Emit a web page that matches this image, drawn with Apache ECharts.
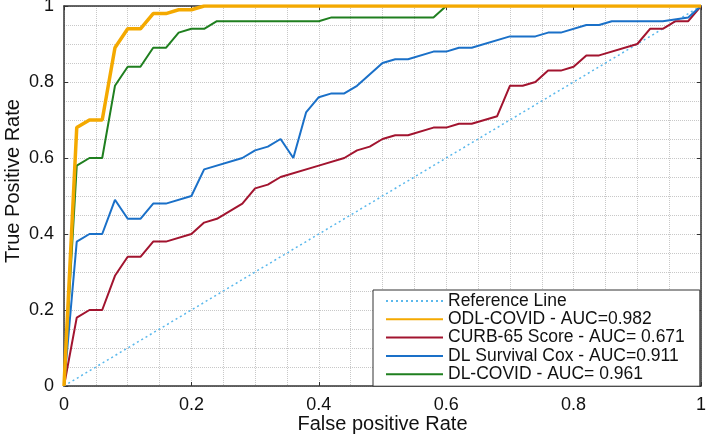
<!DOCTYPE html>
<html>
<head>
<meta charset="utf-8">
<script src="https://cdn.jsdelivr.net/npm/echarts@6/dist/echarts.min.js"></script>
<style>html,body{margin:0;padding:0;background:#fff}#c{width:709px;height:436px}</style>
</head>
<body>
<div id="c"></div>
<script>
// ROC curves: [false positive rate, true positive rate]
const referenceLine = [[0, 0], [1, 1]];
const odlCovid = [[0,0],[0.02,0.68],[0.04,0.70],[0.06,0.70],[0.08,0.89],[0.10,0.94],[0.12,0.94],[0.14,0.98],[0.16,0.98],[0.18,0.99],[0.20,0.99],[0.22,1],[1,1]];
const curb65 = [[0,0],[0.02,0.18],[0.04,0.20],[0.06,0.20],[0.08,0.29],[0.10,0.34],[0.12,0.34],[0.14,0.38],[0.16,0.38],[0.20,0.40],[0.22,0.43],[0.24,0.44],[0.28,0.48],[0.30,0.52],[0.32,0.53],[0.34,0.55],[0.40,0.58],[0.44,0.60],[0.46,0.62],[0.48,0.63],[0.50,0.65],[0.52,0.66],[0.54,0.66],[0.58,0.68],[0.60,0.68],[0.62,0.69],[0.64,0.69],[0.68,0.71],[0.70,0.79],[0.72,0.79],[0.74,0.80],[0.76,0.83],[0.78,0.83],[0.80,0.84],[0.82,0.87],[0.84,0.87],[0.90,0.90],[0.92,0.94],[0.94,0.94],[0.96,0.96],[0.98,0.96],[1,1]];
const dlSurvivalCox = [[0,0],[0.02,0.38],[0.04,0.40],[0.06,0.40],[0.08,0.49],[0.10,0.44],[0.12,0.44],[0.14,0.48],[0.16,0.48],[0.20,0.50],[0.22,0.57],[0.28,0.60],[0.30,0.62],[0.32,0.63],[0.34,0.65],[0.36,0.60],[0.38,0.72],[0.40,0.76],[0.42,0.77],[0.44,0.77],[0.46,0.79],[0.50,0.85],[0.52,0.86],[0.54,0.86],[0.58,0.88],[0.60,0.88],[0.62,0.89],[0.64,0.89],[0.70,0.92],[0.74,0.92],[0.76,0.93],[0.78,0.93],[0.82,0.95],[0.84,0.95],[0.86,0.96],[0.94,0.96],[0.98,0.97],[1,1]];
const dlCovid = [[0,0],[0.02,0.58],[0.04,0.60],[0.06,0.60],[0.08,0.79],[0.10,0.84],[0.12,0.84],[0.14,0.89],[0.16,0.89],[0.18,0.93],[0.20,0.94],[0.22,0.94],[0.24,0.96],[0.40,0.96],[0.42,0.97],[0.58,0.97],[0.60,1],[1,1]];
const seriesNames = ['Reference Line', 'ODL-COVID - AUC=0.982', 'CURB-65 Score - AUC= 0.671', 'DL Survival Cox - AUC=0.911', 'DL-COVID - AUC= 0.961'];
const xTickLabels = ['0', '0.2', '0.4', '0.6', '0.8', '1'];
const yTickLabels = ['0', '0.2', '0.4', '0.6', '0.8', '1'];

const FONT = 'Arial, "Liberation Sans", sans-serif';
const fmt = (labels) => (v) => labels[Math.round(v / 0.2)] ?? '';
const gridLine = { show: true, lineStyle: { type: 'dotted', color: '#c8c8c8', width: 1 } };
const axisLine = { show: true, onZero: false, lineStyle: { color: '#333', width: 1.5 } };
const tick = { show: true, inside: true, length: 4, lineStyle: { color: '#333', width: 1 } };

const chart = echarts.init(document.getElementById('c'));
chart.setOption({
  animation: false,
  backgroundColor: '#fff',
  grid: { left: 64, right: 8, top: 6, bottom: 50, containLabel: false, outerBoundsMode: 'none' },
  xAxis: [{
    type: 'value', min: 0, max: 1, interval: 0.2, position: 'bottom',
    name: 'False positive Rate', nameLocation: 'middle', nameGap: 28, nameMoveOverlap: false,
    nameTextStyle: { fontFamily: FONT, fontSize: 20, color: '#111' },
    axisLine, axisTick: tick,
    axisLabel: { formatter: fmt(xTickLabels), margin: 10, fontFamily: FONT, fontSize: 18, color: '#111' },
    splitLine: gridLine,
    minorTick: { show: false, splitNumber: 4 },
    minorSplitLine: gridLine
  }, {
    type: 'value', min: 0, max: 1, interval: 0.2, position: 'top',
    axisLine, axisTick: tick, axisLabel: { show: false }, splitLine: { show: false }
  }],
  yAxis: [{
    type: 'value', min: 0, max: 1, interval: 0.2, position: 'left',
    name: 'True Positive Rate', nameLocation: 'middle', nameGap: 41, nameMoveOverlap: false,
    nameTextStyle: { fontFamily: FONT, fontSize: 20, color: '#111', padding: [0, 0, 0, 30] },
    axisLine, axisTick: tick,
    axisLabel: { formatter: fmt(yTickLabels), margin: 10, fontFamily: FONT, fontSize: 18, color: '#111' },
    splitLine: gridLine,
    minorTick: { show: false, splitNumber: 4 },
    minorSplitLine: gridLine
  }, {
    type: 'value', min: 0, max: 1, interval: 0.2, position: 'right',
    axisLine, axisTick: tick, axisLabel: { show: false }, splitLine: { show: false }
  }],
  legend: {
    orient: 'vertical', left: 373, top: 290,
    padding: [2, 15, 3, 12], itemGap: 0.3, itemWidth: 57, itemHeight: 14,
    backgroundColor: '#fff', borderColor: '#333', borderWidth: 1,
    itemStyle: { opacity: 0 },
    textStyle: { fontFamily: FONT, fontSize: 17.5, color: '#111', lineHeight: 17 },
    data: seriesNames
  },
  series: [
    { name: seriesNames[0], type: 'line', data: referenceLine, symbol: 'none', z: 2,
      lineStyle: { color: '#5ab8ec', width: 1.5, type: [2, 3] }, itemStyle: { color: '#5ab8ec' } },
    { name: seriesNames[2], type: 'line', data: curb65, symbol: 'none', z: 3,
      lineStyle: { color: '#a2142f', width: 2 }, itemStyle: { color: '#a2142f' } },
    { name: seriesNames[3], type: 'line', data: dlSurvivalCox, symbol: 'none', z: 4,
      lineStyle: { color: '#1a70c8', width: 2 }, itemStyle: { color: '#1a70c8' } },
    { name: seriesNames[4], type: 'line', data: dlCovid, symbol: 'none', z: 5,
      lineStyle: { color: '#1f7f1f', width: 2 }, itemStyle: { color: '#1f7f1f' } },
    { name: seriesNames[1], type: 'line', data: odlCovid, symbol: 'none', z: 6,
      lineStyle: { color: '#f4a900', width: 3.5 }, itemStyle: { color: '#f4a900' } }
  ]
});
</script>
</body>
</html>
